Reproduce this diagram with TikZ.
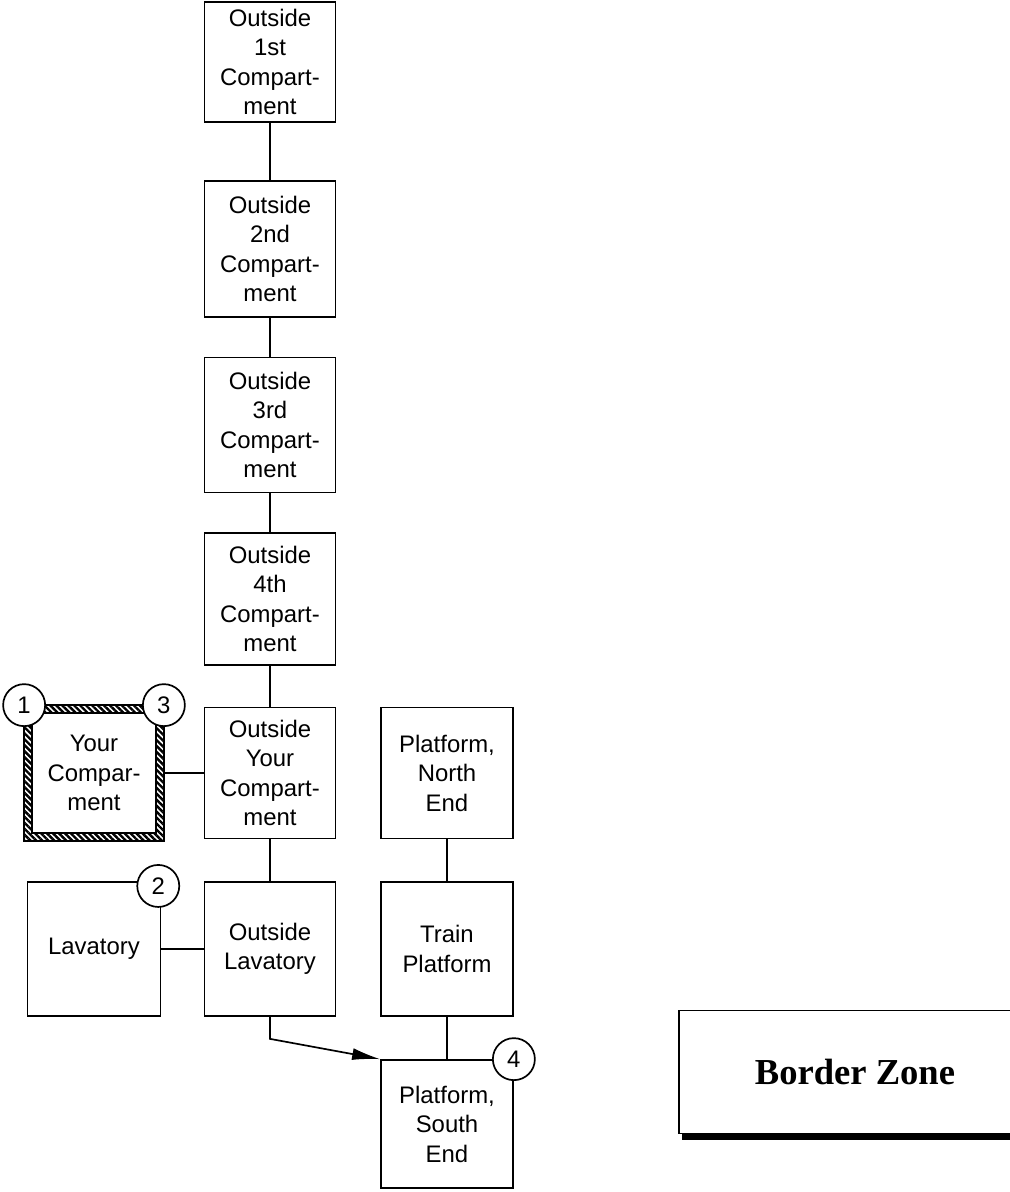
\documentclass[tikz,border=0pt]{standalone}
\usepackage{fontspec}
\setmainfont{Liberation Sans}
\newfontfamily\zonefont{Liberation Serif}
\usetikzlibrary{arrows.meta,patterns.meta}
\begin{document}
\begin{tikzpicture}[x=0.025cm,y=-0.025cm,line width=1.2pt,
  room/.style={draw,minimum width=3.28cm,align=center,inner sep=0pt,font=\fontsize{17}{21}\selectfont},
  num/.style={draw,circle,fill=white,minimum size=1.05cm,inner sep=0pt,font=\fontsize{17}{20}\selectfont}]
\useasboundingbox (0,0) rectangle (1010,1192);
\node [room,minimum height=3cm] (out1) at (270,62) {Outside\\1st\\Compart-\\ment};
\node [room,minimum height=3.4cm] (out2) at (270,249) {Outside\\2nd\\Compart-\\ment};
\node [room,minimum height=3.38cm] (out3) at (270,425) {Outside\\3rd\\Compart-\\ment};
\node [room,minimum height=3.3cm] (out4) at (270,599) {Outside\\4th\\Compart-\\ment};
\node [room,minimum height=3.28cm] (outyc) at (270,773) {Outside\\Your\\Compart-\\ment};
\node [room,minimum height=3.35cm] (outlav) at (270,949) {Outside\\Lavatory};
\node [room,draw=none,minimum width=3.45cm,minimum height=3.35cm] (yc) at (94,773) {Your\\Compar-\\ment};
\node [room,minimum width=3.33cm,minimum height=3.35cm] (lav) at (94,949) {Lavatory};
\node [room,minimum width=3.3cm,minimum height=3.28cm] (north) at (447,773) {Platform,\\North\\End};
\node [room,minimum width=3.3cm,minimum height=3.35cm] (train) at (447,949) {Train\\Platform};
\node [room,minimum width=3.3cm,minimum height=3.2cm] (south) at (447,1124) {Platform,\\South\\End};
\node [draw,minimum width=9.4cm,minimum height=3.08cm,font=\zonefont\bfseries\fontsize{26}{30}\selectfont] (zone) at (867,1072) {\hspace*{-0.6cm}Border Zone};
\draw [line width=0.14cm] ([shift={(0.1cm,-0.07cm)}]zone.south west) -- ([shift={(0,-0.07cm)}]zone.south east);
\fill [pattern={Lines[angle=-45,distance=3pt,line width=1.7pt]},even odd rule] (yc.south west) rectangle (yc.north east) ([shift={(0.2cm,0.2cm)}]yc.south west) rectangle ([shift={(-0.2cm,-0.2cm)}]yc.north east);
\draw [line width=1pt] (yc.south west) rectangle (yc.north east);
\draw [line width=1pt] ([shift={(0.2cm,0.2cm)}]yc.south west) rectangle ([shift={(-0.2cm,-0.2cm)}]yc.north east);
\draw (out1) -- (out2);
\draw (out2) -- (out3);
\draw (out3) -- (out4);
\draw (out4) -- (outyc);
\draw (outyc) -- (outlav);
\draw (yc.east) -- (outyc.west);
\draw (lav) -- (outlav);
\draw (north) -- (train);
\draw (train) -- (south);
\draw [-{Latex[length=0.7cm,width=0.3cm]}] (outlav.south) -- ++(0,22) -- (south.north west);
\node [num] (n1) at (yc.north west) {1};
\node [num] (n3) at (yc.north east) {3};
\node [num] (n2) at ([shift={(-0.08cm,-0.12cm)}]lav.north east) {2};
\node [num] (n4) at (south.north east) {4};
\end{tikzpicture}
\end{document}
